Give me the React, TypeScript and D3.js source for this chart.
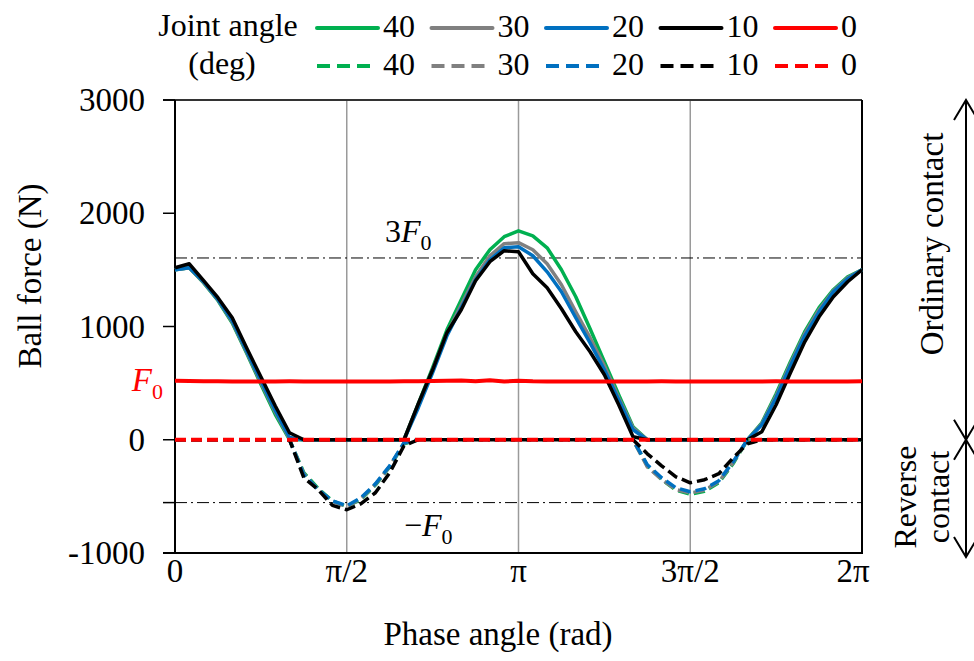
import * as d3 from "d3";

// phase grid: 0..2pi in steps of pi/24
const phase = d3.range(49).map((i) => (i * Math.PI) / 24);

// solid = ordinary contact, dashed = reverse contact (N)
const solid40 = [1501, 1519, 1385, 1230, 1030, 765, 490, 225, 0, 0, 0, 0, 0, 0, 0, 0, 0, 318, 636, 971, 1236, 1501, 1678, 1793, 1845, 1801, 1695, 1501, 1263, 980, 689, 397, 115, 0, 0, 0, 0, 0, 0, 0, 0, 150, 406, 689, 954, 1166, 1325, 1439, 1501];
const solid30 = [1501, 1519, 1390, 1235, 1040, 775, 505, 245, 10, 0, 0, 0, 0, 0, 0, 0, 0, 309, 618, 936, 1192, 1439, 1625, 1731, 1740, 1678, 1554, 1369, 1130, 901, 653, 371, 106, 0, 0, 0, 0, 0, 0, 0, 0, 141, 389, 671, 936, 1148, 1316, 1430, 1501];
const solid20 = [1501, 1519, 1395, 1240, 1050, 785, 520, 260, 20, 0, 0, 0, 0, 0, 0, 0, 0, 283, 592, 918, 1166, 1413, 1589, 1695, 1704, 1625, 1483, 1307, 1077, 856, 618, 353, 88, 0, 0, 0, 0, 0, 0, 0, 0, 132, 371, 653, 918, 1130, 1307, 1422, 1501];
const solid10 = [1519, 1554, 1404, 1254, 1077, 812, 556, 300, 62, 0, 0, 0, 0, 0, 0, 0, 0, 318, 618, 945, 1148, 1404, 1572, 1669, 1660, 1466, 1342, 1157, 954, 777, 574, 309, 26, 0, 0, 0, 0, 0, 0, 0, 0, 71, 309, 592, 865, 1086, 1263, 1395, 1501];
const solid0 = [520, 518, 517, 516, 515, 515, 514, 515, 516, 515, 514, 514, 515, 515, 514, 515, 516, 517, 518, 520, 524, 516, 526, 514, 521, 516, 515, 514, 515, 515, 515, 514, 515, 515, 516, 515, 515, 515, 514, 515, 515, 515, 516, 515, 515, 515, 515, 515, 516];

const dashed40 = [0, 0, 0, 0, 0, 0, 0, 0, 0, -290, -430, -540, -590, -525, -400, -240, -35, 0, 0, 0, 0, 0, 0, 0, 0, 0, 0, 0, 0, 0, 0, 0, 0, -230, -350, -445, -480, -455, -380, -210, 0, 0, 0, 0, 0, 0, 0, 0, 0];
const dashed30 = [0, 0, 0, 0, 0, 0, 0, 0, 0, -300, -440, -545, -590, -520, -395, -235, -30, 0, 0, 0, 0, 0, 0, 0, 0, 0, 0, 0, 0, 0, 0, 0, 0, -240, -350, -440, -470, -445, -370, -200, 0, 0, 0, 0, 0, 0, 0, 0, 0];
const dashed20 = [0, 0, 0, 0, 0, 0, 0, 0, 0, -309, -441, -539, -583, -512, -389, -230, -26, 0, 0, 0, 0, 0, 0, 0, 0, 0, 0, 0, 0, 0, 0, 0, 0, -221, -336, -424, -459, -433, -362, -194, 0, 0, 0, 0, 0, 0, 0, 0, 0];
const dashed10 = [0, 0, 0, 0, 0, 0, 0, 0, 0, -335, -440, -580, -618, -565, -468, -291, -53, 0, 0, 0, 0, 0, 0, 0, 0, 0, 0, 0, 0, 0, 0, 0, 0, -124, -230, -327, -380, -353, -300, -159, -35, 0, 0, 0, 0, 0, 0, 0, 0];
const dashed0 = [0, 0, 0, 0, 0, 0, 0, 0, 0, 0, 0, 0, 0, 0, 0, 0, 0, 0, 0, 0, 0, 0, 0, 0, 0, 0, 0, 0, 0, 0, 0, 0, 0, 0, 0, 0, 0, 0, 0, 0, 0, 0, 0, 0, 0, 0, 0, 0, 0];

const angles = ["40", "30", "20", "10", "0"];
const colors = ["#00b050", "#808080", "#0070c0", "#000000", "#ff0000"];
const solids = [solid40, solid30, solid20, solid10, solid0];
const dasheds = [dashed40, dashed30, dashed20, dashed10, dashed0];

const yTicks = [3000, 2000, 1000, 0, -1000];
const xTicks = [0, Math.PI / 2, Math.PI, (3 * Math.PI) / 2, 2 * Math.PI];
const xTickLabels = ["0", "π/2", "π", "3π/2", "2π"];
const threeF0 = 1605;
const minusF0 = -555;
const F0 = 515;

const font = "'Times New Roman', 'Liberation Serif', serif";

export default function App() {
  const width = 974;
  const height = 661;
  const margin = { top: 100, right: 112, bottom: 108, left: 175 };
  const x = d3.scaleLinear().domain([0, 2 * Math.PI]).range([margin.left, width - margin.right]);
  const y = d3.scaleLinear().domain([-1000, 3000]).range([height - margin.bottom, margin.top]);
  const x0 = x.range()[0];
  const x1 = x.range()[1];
  const yTop = y(3000);
  const yBot = y(-1000);

  const line = d3
    .line<number>()
    .x((_, i) => x(phase[i]))
    .y((d) => y(d))
    .curve(d3.curveLinear);

  const legendX = 317;
  const legendStep = 114.5;
  const arrowX = 966;

  const chevron = (tipY: number, dir: number) =>
    `M${arrowX - 12},${tipY + dir * 20} L${arrowX},${tipY} L${arrowX + 12},${tipY + dir * 20}`;

  return (
    <svg
      width={width}
      height={height}
      style={{ position: "absolute", left: 0, top: 0, background: "#fff", fontFamily: font }}
    >
      {/* gridlines */}
      {xTicks.slice(1, 4).map((t, i) => (
        <line key={i} x1={x(t)} x2={x(t)} y1={yTop} y2={yBot} stroke="#9a9a9a" strokeWidth={1.5} />
      ))}

      {/* reference lines */}
      {[threeF0, minusF0].map((v, i) => (
        <line key={i} x1={x0} x2={x1} y1={y(v)} y2={y(v)} stroke="#000" strokeWidth={1} strokeDasharray="12,4,2,4" />
      ))}

      {/* frame */}
      <line x1={163} x2={x1} y1={yTop} y2={yTop} stroke="#333" strokeWidth={2} />
      <line x1={x1} x2={x1} y1={yTop} y2={yBot} stroke="#000" strokeWidth={2} />
      <line x1={x0} x2={x0} y1={yTop} y2={yBot} stroke="#000" strokeWidth={2} />
      <line x1={163} x2={x1 + 1} y1={yBot} y2={yBot} stroke="#000" strokeWidth={2} />
      {[...yTicks, minusF0].map((t, i) => (
        <line key={i} x1={163} x2={x0} y1={y(t)} y2={y(t)} stroke="#000" strokeWidth={1.5} />
      ))}

      {/* series */}
      {solids.map((s, i) => (
        <path key={"s" + i} d={line(s)!} fill="none" stroke={colors[i]} strokeWidth={i === 4 ? 4 : 3.5} strokeLinejoin="round" />
      ))}
      {dasheds.map((s, i) => (
        <path key={"d" + i} d={line(s)!} fill="none" stroke={colors[i]} strokeWidth={i === 4 ? 4 : 3.5} strokeDasharray="11,5" strokeLinejoin="round" />
      ))}

      {/* y tick labels */}
      {yTicks.map((t) => (
        <text key={t} x={145} y={y(t)} fontSize={33} textAnchor="end" dominantBaseline="central">
          {t}
        </text>
      ))}
      <text x={163} y={y(F0) + 10} fontSize={33} textAnchor="end" fill="#ff0000">
        <tspan fontStyle="italic">F</tspan>
        <tspan fontSize={22} dy={8}>0</tspan>
      </text>

      {/* x tick labels */}
      {xTicks.map((t, i) => (
        <text key={i} x={Math.min(x(t), 853)} y={571} fontSize={33} textAnchor="middle" dominantBaseline="central">
          {xTickLabels[i]}
        </text>
      ))}

      {/* axis titles */}
      <text x={498} y={634} fontSize={33} textAnchor="middle" dominantBaseline="central">
        Phase angle (rad)
      </text>
      <text transform="translate(30,276) rotate(-90)" fontSize={33} textAnchor="middle" dominantBaseline="central">
        Ball force (N)
      </text>

      {/* reference labels */}
      <text x={385} y={y(threeF0) - 16} fontSize={32}>
        <tspan>3</tspan>
        <tspan fontStyle="italic">F</tspan>
        <tspan fontSize={22} dy={8}>0</tspan>
      </text>
      <text x={404} y={y(minusF0) + 33} fontSize={32}>
        <tspan>−</tspan>
        <tspan fontStyle="italic">F</tspan>
        <tspan fontSize={22} dy={8}>0</tspan>
      </text>

      {/* legend */}
      <text x={228} y={25} fontSize={32} textAnchor="middle" dominantBaseline="central">
        Joint angle
      </text>
      <text x={222} y={63} fontSize={32} textAnchor="middle" dominantBaseline="central">
        (deg)
      </text>
      {angles.map((a, i) => {
        const lx = legendX + i * legendStep;
        return (
          <g key={a}>
            <line x1={lx} x2={lx + 61} y1={28} y2={28} stroke={colors[i]} strokeWidth={4} strokeLinecap="round" />
            <text x={lx + 66} y={26} fontSize={32} dominantBaseline="central">
              {a}
            </text>
            <line x1={lx} x2={lx + 53} y1={66} y2={66} stroke={colors[i]} strokeWidth={4} strokeDasharray="13,7" />
            <text x={lx + 66} y={64} fontSize={32} dominantBaseline="central">
              {a}
            </text>
          </g>
        );
      })}

      {/* contact annotation */}
      <g stroke="#000" strokeWidth={2} fill="none">
        <line x1={arrowX} x2={arrowX} y1={yTop} y2={y(0)} />
        <line x1={arrowX} x2={arrowX} y1={y(0)} y2={yBot + 4} />
        <path d={chevron(yTop, 1)} />
        <path d={chevron(y(0), -1)} />
        <path d={chevron(y(0), 1)} />
        <path d={chevron(yBot + 4, -1)} />
      </g>
      <text transform="translate(932,244) rotate(-90)" fontSize={33} textAnchor="middle" dominantBaseline="central">
        Ordinary contact
      </text>
      <text transform="translate(905,497) rotate(-90)" fontSize={32} textAnchor="middle" dominantBaseline="central">
        Reverse
      </text>
      <text transform="translate(938,497) rotate(-90)" fontSize={32} textAnchor="middle" dominantBaseline="central">
        contact
      </text>
    </svg>
  );
}
